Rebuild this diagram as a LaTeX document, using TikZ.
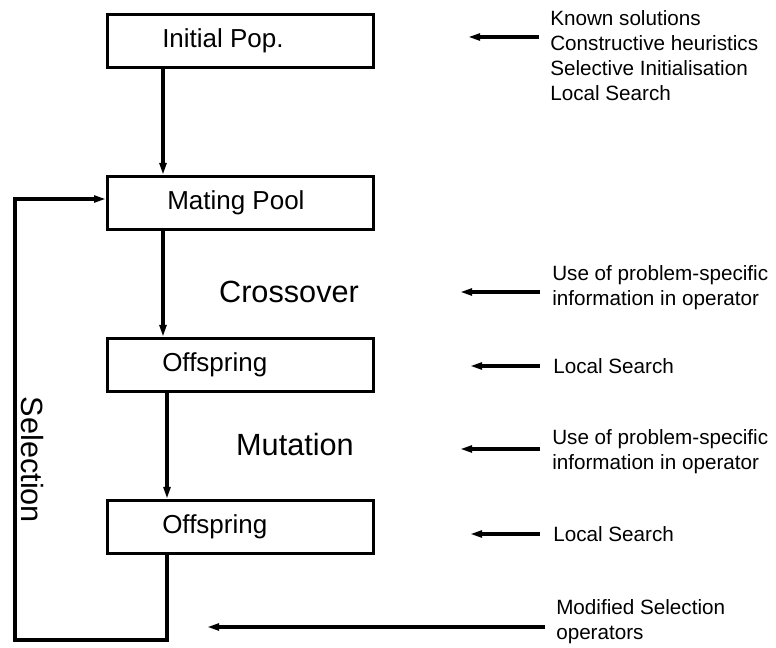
\documentclass[tikz,border=0pt]{standalone}
\usepackage{fontspec}
\setmainfont{Liberation Sans}
\usetikzlibrary{arrows.meta,calc}
\begin{document}
\begin{tikzpicture}[x=0.75pt,y=-0.75pt,
  box/.style={draw=black,line width=2.4pt,minimum width=266*0.75pt,minimum height=53*0.75pt,inner sep=0pt,anchor=north west},
  boxtext/.style={anchor=west,inner sep=0pt,font=\fontsize{19.5}{22}\selectfont},
  optext/.style={inner sep=0pt,font=\fontsize{23}{26}\selectfont},
  side/.style={anchor=west,inner sep=0pt,align=left,font=\fontsize{15.5}{18.75}\selectfont},
  conn/.style={line width=2.4pt},
  arr/.style={line width=2.4pt,-{Triangle[length=9pt,width=5pt]}}]
\useasboundingbox (0,0) rectangle (776,648);
% boxes
\node[box] (ip) at (106,13) {};
\node[box] (mp) at (106,175) {};
\node[box] (o1) at (106,337) {};
\node[box] (o2) at (106,499) {};
\node[boxtext] (ipt) at ($(ip.west)+(56,0)$) {Initial Pop.};
\node[boxtext] (mpt) at ($(mp.west)+(61,0)$) {Mating Pool};
\node[boxtext] (o1t) at ($(o1.west)+(56,0)$) {Offspring};
\node[boxtext] (o2t) at ($(o2.west)+(56,0)$) {Offspring};
% operator labels
\node[optext] (cross) at (289,292) {Crossover};
\node[optext] (mut) at (295,445) {Mutation};
\node[optext,rotate=-90] (sel) at (32,460) {Selection};
% vertical arrows
\coordinate (a1) at ($(ip.south west)+(57,0)$);
\coordinate (a2) at ($(mp.south west)+(57,0)$);
\coordinate (a3) at ($(o1.south west)+(61,0)$);
\coordinate (a4) at ($(o2.south west)+(61,0)$);
\draw[arr] (a1) -- (a1 |- mp.north);
\draw[arr] (a2) -- (a2 |- o1.north);
\draw[arr] (a3) -- (a3 |- o2.north);
% selection loop
\coordinate (l1) at (167,640);
\coordinate (l2) at (15,640);
\coordinate (l3) at (15,199);
\draw[arr,line join=miter] (a4) -- (l1) -- (l2) -- (l3) -- (mp.west |- l3);
% side texts
\node[side] (t1) at (550,56) {Known solutions\\Constructive heuristics\\Selective Initialisation\\Local Search};
\node[side] (t2) at (552,288) {Use of problem-specific\\information in operator};
\node[side] (t3) at (553,366) {Local Search};
\node[side] (t4) at (552,452) {Use of problem-specific\\information in operator};
\node[side] (t5) at (553,534) {Local Search};
\node[side] (t6) at (556,622) {Modified Selection\\operators};
% side arrows
\coordinate (s1a) at (539,37);  \coordinate (s1b) at (468,37);
\coordinate (s2a) at (540,292); \coordinate (s2b) at (460,292);
\coordinate (s3a) at (540,366); \coordinate (s3b) at (470,366);
\coordinate (s4a) at (540,449); \coordinate (s4b) at (460,449);
\coordinate (s5a) at (540,534); \coordinate (s5b) at (470,534);
\coordinate (s6a) at (545,627); \coordinate (s6b) at (207,627);
\draw[arr] (s1a) -- (s1b);
\draw[arr] (s2a) -- (s2b);
\draw[arr] (s3a) -- (s3b);
\draw[arr] (s4a) -- (s4b);
\draw[arr] (s5a) -- (s5b);
\draw[arr] (s6a) -- (s6b);
\end{tikzpicture}
\end{document}
